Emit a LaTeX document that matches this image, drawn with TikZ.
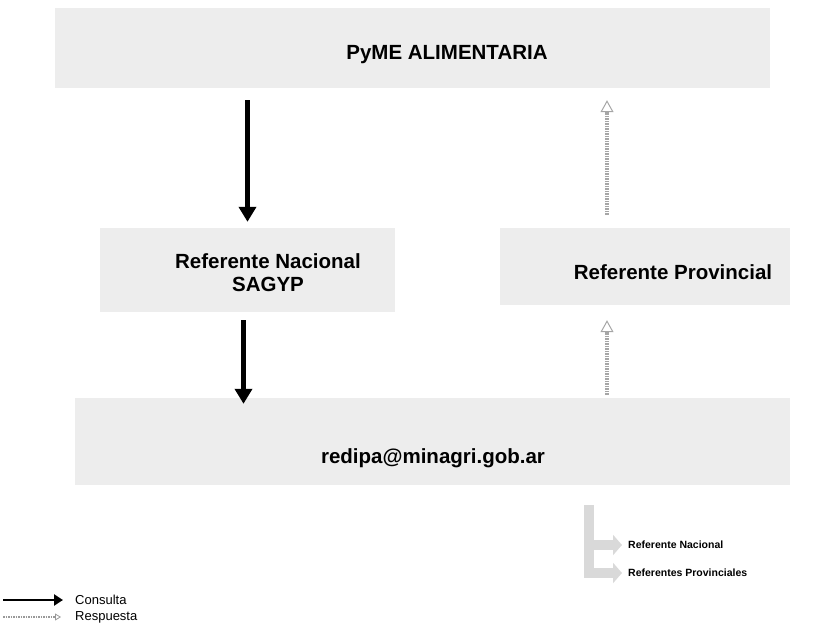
\documentclass[tikz,border=0pt]{standalone}
\usepackage{fontspec}
\setmainfont{Liberation Sans}
\usetikzlibrary{arrows.meta}

\tikzset{
  caja/.style={fill=black!7, inner sep=0pt},
  titulo/.style={font=\fontsize{20.5}{23}\selectfont\bfseries, align=center, inner sep=1pt},
  leyenda/.style={font=\fontsize{10.5}{13}\selectfont\bfseries, inner sep=0pt},
  nota/.style={font=\fontsize{13}{15}\selectfont, inner sep=0pt},
  flechacons/.style={line width=4.5pt, -{Triangle[length=15pt,width=17pt]}},
  flecharesp/.style={line width=4pt, black!35, dash pattern=on 1.5pt off 1pt, -{Triangle[open,length=12pt,width=13pt,line width=1pt]}},
  legflecha/.style={line width=10pt, black!15, -{Triangle[length=9pt,width=20pt]}}
}

\begin{document}
\begin{tikzpicture}[x=1pt,y=-1pt]
         \useasboundingbox (0,0) rectangle (821,628);

         % cajas
         \node[caja, minimum width=715pt, minimum height=80pt] (pymebox) at (412.5,48) {};
         \node[caja, minimum width=295pt, minimum height=84pt] (nacbox) at (247.5,270) {};
         \node[caja, minimum width=290pt, minimum height=77pt] (provbox) at (645,266.5) {};
         \node[caja, minimum width=715pt, minimum height=87pt] (redipabox) at (432.5,441.5) {};

         \node[titulo] (pyme) at (447,55) {PyME ALIMENTARIA};
         \node[titulo] (nacional) at (268,273) {Referente Nacional\\SAGYP};
         \node[titulo] (provincial) at (673,272) {Referente Provincial};
         \node[titulo] (redipa) at (433,458) {redipa@minagri.gob.ar};

         % consulta
         \draw[flechacons, shorten <=12pt, shorten >=6pt] (nacbox.north |- pymebox.south) -- (nacbox.north);
         \draw[flechacons, shorten <=8pt, shorten >=-6pt] ([xshift=-4pt]nacbox.south) -- ([xshift=-4pt]nacbox.south |- redipabox.north);

         % respuesta
         \coordinate (resp) at ([xshift=-38pt]provbox.north);
         \coordinate (resp2) at ([xshift=-38pt]provbox.south);
         \draw[flecharesp, shorten <=3pt, shorten >=15pt] (resp2 |- redipabox.north) -- (resp2);
         \draw[flecharesp, shorten <=13pt, shorten >=12pt] (resp) -- (resp |- pymebox.south);

         % leyenda derecha
         \coordinate (legtop) at (589,505);
         \node[leyenda, anchor=west] (legnac) at (628,545) {Referente Nacional};
         \node[leyenda, anchor=west] (legprov) at (628,573) {Referentes Provinciales};
         \draw[legflecha, shorten >=6pt] (legtop) |- (legnac.west);
         \draw[legflecha, shorten >=6pt] (legtop) |- (legprov.west);

         % leyenda izquierda
         \node[nota, anchor=west] (consulta) at (75,600) {Consulta};
         \node[nota, anchor=west] (respuesta) at (75,617) {Respuesta};
         \draw[line width=2.5pt, -{Triangle[length=9pt,width=11pt]}, shorten >=12pt] ([xshift=-72pt]consulta.west) -- (consulta.west);
         \draw[line width=2pt, black!40, dash pattern=on 1.5pt off 1pt, -{Triangle[open,length=6pt,width=7pt,line width=0.8pt]}, shorten >=14pt] ([xshift=-72pt]respuesta.west) -- (respuesta.west);
\end{tikzpicture}
\end{document}
